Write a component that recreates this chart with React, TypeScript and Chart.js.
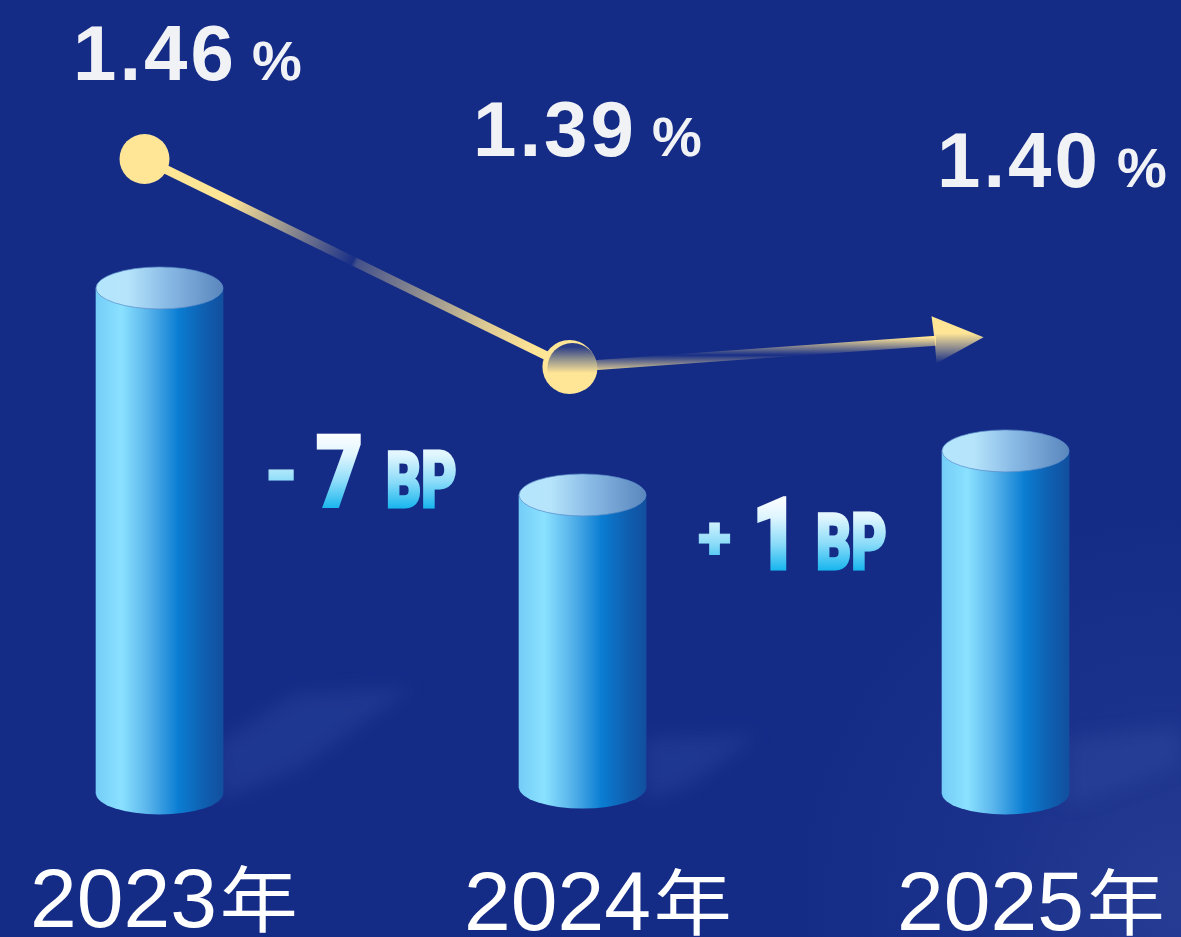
import React, { useEffect, useRef } from "react";
import { Chart, registerables } from "chart.js";

Chart.register(...registerables);

// ---- data ----
const years = [2023, 2024, 2025];
const yearSuffix = "年";
const rates = [1.46, 1.39, 1.4];
const rateX = [2022.9645, 2023.969, 2024.948];
const barTops = [1.46, 1.39, 1.4049];
const barBases = [1.2889, 1.2909, 1.2889];
const changeSigns = ["-", "+"];
const changeValues = ["7", "1"];
const changeUnit = "BP";

// ---- styling ----
const W = 1181;
const H = 937;
const YELLOW = "#ffe596";
const SANS = '"Liberation Sans", "Noto Sans CJK SC", sans-serif';
const rateLabelPos = [
  { x: 73, y: 80, px: 252 },
  { x: 473, y: 156, px: 652 },
  { x: 937, y: 187, px: 1117 },
];
const yearLabelPos = [
  { x: 30, y: 927 },
  { x: 464, y: 930 },
  { x: 897, y: 930 },
];
const changePos = [
  { signX: 263, signY: 499, signFont: 78, numX: 316, unitX: 386, y: 508 },
  { signX: 698, signY: 559, signFont: 62, numX: 752, unitX: 816, y: 570 },
];

function yellowAlpha(a: number) {
  return `rgba(255,229,150,${a})`;
}

function vGrad(ctx: CanvasRenderingContext2D, y0: number, y1: number, stops: [number, string][]) {
  const g = ctx.createLinearGradient(0, y0, 0, y1);
  stops.forEach(([o, c]) => g.addColorStop(o, c));
  return g;
}

function bodyGradient(ctx: CanvasRenderingContext2D, x0: number, x1: number) {
  const g = ctx.createLinearGradient(x0, 0, x1, 0);
  g.addColorStop(0, "#74cdf7");
  g.addColorStop(0.2, "#8ae1ff");
  g.addColorStop(0.4, "#5bb6ec");
  g.addColorStop(0.65, "#0a7dd2");
  g.addColorStop(0.85, "#0f5fb0");
  g.addColorStop(1, "#124f9f");
  return g;
}

const backdrop = {
  id: "backdrop",
  beforeDraw(chart: any) {
    const ctx: CanvasRenderingContext2D = chart.ctx;
    ctx.save();
    ctx.fillStyle = "#152c87";
    ctx.fillRect(0, 0, W, H);
    const g = ctx.createRadialGradient(1181, 900, 20, 1181, 900, 400);
    g.addColorStop(0, "rgba(70,90,170,0.35)");
    g.addColorStop(0.5, "rgba(60,80,165,0.14)");
    g.addColorStop(1, "rgba(60,80,165,0)");
    ctx.fillStyle = g;
    ctx.fillRect(0, 0, W, H);
    ctx.filter = "blur(9px)";
    ctx.fillStyle = "rgba(70,100,180,0.2)";
    const shadows = [
      [[215, 745], [295, 694], [412, 688], [300, 768], [222, 800]],
      [[645, 738], [758, 735], [690, 785], [645, 800]],
      [[1066, 738], [1181, 726], [1181, 765], [1090, 800], [1066, 805]],
    ];
    shadows.forEach((s) => {
      ctx.beginPath();
      s.forEach(([x, y], i) => (i ? ctx.lineTo(x, y) : ctx.moveTo(x, y)));
      ctx.closePath();
      ctx.fill();
    });
    ctx.restore();
  },
};

const cylinderCaps = {
  id: "cylinderCaps",
  afterDatasetDraw(chart: any, args: any) {
    if (args.index !== 0) return;
    const ctx: CanvasRenderingContext2D = chart.ctx;
    const RY = 21;
    chart.getDatasetMeta(0).data.forEach((el: any) => {
      const rx = el.width / 2;
      const top = Math.min(el.y, el.base);
      const bottom = Math.max(el.y, el.base);
      ctx.save();
      ctx.fillStyle = bodyGradient(ctx, el.x - rx, el.x + rx);
      ctx.beginPath();
      ctx.ellipse(el.x, bottom - 0.5, rx, RY, 0, 0, Math.PI);
      ctx.fill();
      const cap = ctx.createLinearGradient(el.x - rx, 0, el.x + rx, 0);
      cap.addColorStop(0, "#b4e6fd");
      cap.addColorStop(0.25, "#b6e4fb");
      cap.addColorStop(0.55, "#8abbe6");
      cap.addColorStop(1, "#5a86bd");
      ctx.fillStyle = cap;
      ctx.strokeStyle = "rgba(90,140,200,0.7)";
      ctx.lineWidth = 1;
      ctx.beginPath();
      ctx.ellipse(el.x, top, rx, RY, 0, 0, Math.PI * 2);
      ctx.fill();
      ctx.stroke();
      ctx.restore();
    });
  },
};

function drawCondensed(
  ctx: CanvasRenderingContext2D,
  text: string,
  x: number,
  y: number,
  font: number,
  sx: number,
  lw: number,
  gradTop: number,
  gradBottom: number
) {
  const by = y - lw / 2;
  ctx.save();
  ctx.translate(x, by);
  ctx.scale(sx, 1);
  ctx.font = `900 ${font}px Roboto, ${SANS}`;
  ctx.textAlign = "left";
  ctx.textBaseline = "alphabetic";
  const g = vGrad(ctx, gradTop - by, gradBottom - by, [
    [0, "#ffffff"],
    [0.3, "#def5fe"],
    [0.65, "#8bdcf9"],
    [1, "#19b6ee"],
  ]);
  ctx.fillStyle = g;
  ctx.strokeStyle = g;
  ctx.lineWidth = lw;
  ctx.lineJoin = "miter";
  ctx.miterLimit = 3;
  ctx.fillText(text, 0, 0);
  if (lw > 0) ctx.strokeText(text, 0, 0);
  ctx.restore();
}

const overlay = {
  id: "overlay",
  afterDatasetsDraw(chart: any) {
    const ctx: CanvasRenderingContext2D = chart.ctx;
    const meta = chart.getDatasetMeta(1).data;
    const mid = meta[1];
    const end = meta[2];
    ctx.save();
    // gradient disc on the middle point
    ctx.fillStyle = vGrad(ctx, mid.y - 20, mid.y + 6, [
      [0, "#2a3c86"],
      [0.45, "#8d8f8e"],
      [1, YELLOW],
    ]);
    ctx.beginPath();
    ctx.arc(mid.x + 3, mid.y + 1, 25, 0, Math.PI * 2);
    ctx.fill();
    // arrow head at the last point
    ctx.fillStyle = vGrad(ctx, end.y - 4, end.y + 26, [
      [0, YELLOW],
      [1, "rgba(255,229,150,0)"],
    ]);
    ctx.beginPath();
    ctx.moveTo(end.x, end.y);
    ctx.lineTo(end.x - 52, end.y - 21);
    ctx.lineTo(end.x - 49, end.y + 2);
    ctx.lineTo(end.x - 47, end.y + 26);
    ctx.closePath();
    ctx.fill();
    ctx.restore();

    // rate labels
    ctx.save();
    ctx.textAlign = "left";
    ctx.textBaseline = "alphabetic";
    ctx.fillStyle = "#f1f2f6";
    rates.forEach((r, i) => {
      const p = rateLabelPos[i];
      ctx.font = `bold 78px ${SANS}`;
      (ctx as any).letterSpacing = "3px";
      ctx.fillText(r.toFixed(2), p.x, p.y);
      (ctx as any).letterSpacing = "0px";
      ctx.font = `bold 56px ${SANS}`;
      ctx.fillText("%", p.px, p.y);
    });
    // year labels
    ctx.fillStyle = "#ffffff";
    years.forEach((y, i) => {
      const p = yearLabelPos[i];
      ctx.font = `84px ${SANS}`;
      const s = String(y);
      ctx.fillText(s, p.x, p.y);
      const w = ctx.measureText(s).width;
      ctx.save();
      ctx.translate(p.x + w + 3, p.y - 1);
      ctx.scale(1, 0.92);
      ctx.font = `78px "Noto Sans CJK SC", ${SANS}`;
      ctx.fillText(yearSuffix, 0, 0);
      ctx.restore();
    });
    ctx.restore();

    // change labels
    changePos.forEach((p, i) => {
      const top = p.y - 75;
      drawCondensed(ctx, changeSigns[i], p.signX, p.signY, p.signFont, i === 0 ? 1.05 : 1, 1, top, p.y);
      drawCondensed(ctx, changeValues[i], p.numX, p.y, 101, 0.8, 3, top, p.y);
      drawCondensed(ctx, changeUnit, p.unitX, p.y, 78, 0.7, 3, top, p.y);
    });
  },
};

const LOWER_CLIP = { left: 0, top: 0, bottom: 0, right: 936 - W };

export default function App() {
  const ref = useRef<HTMLCanvasElement>(null);

  useEffect(() => {
    document.body.style.margin = "0";
    document.body.style.background = "#152c87";
    const canvas = ref.current!;
    const ratePoints = rates.map((y, i) => ({ x: rateX[i], y }));
    const bars = years.map((x, i) => ({ x, y: [barBases[i], barTops[i]] }));
    const none = "rgba(0,0,0,0)";

    const chart = new Chart(canvas, {
      type: "bar",
      data: {
        datasets: [
          {
            type: "bar",
            data: bars as any,
            xAxisID: "x",
            yAxisID: "y",
            order: 10,
            barThickness: 127,
            borderWidth: 0,
            backgroundColor: (c: any) => {
              const px = c.chart.scales.x.getPixelForValue(years[c.dataIndex ?? 0]);
              if (!Number.isFinite(px)) return "#3fa0e6";
              return bodyGradient(c.chart.ctx, px - 63.5, px + 63.5);
            },
          } as any,
          {
            type: "line",
            data: ratePoints as any,
            xAxisID: "x",
            yAxisID: "y2",
            order: 3,
            borderWidth: 9,
            borderCapStyle: "butt",
            tension: 0,
            pointRadius: [25, 27, 0],
            pointBorderWidth: 0,
            pointBackgroundColor: YELLOW,
            segment: {
              borderColor: (c: any) => {
                if (c.p0DataIndex !== 0) return none;
                const g = c.chart.ctx.createLinearGradient(c.p0.x, c.p0.y, c.p1.x, c.p1.y);
                g.addColorStop(0, yellowAlpha(1));
                g.addColorStop(0.2, yellowAlpha(1));
                g.addColorStop(0.49, yellowAlpha(0.02));
                g.addColorStop(0.5, yellowAlpha(0.2));
                g.addColorStop(0.8, yellowAlpha(0.85));
                g.addColorStop(0.92, yellowAlpha(1));
                g.addColorStop(1, yellowAlpha(1));
                return g;
              },
            },
          } as any,
          {
            type: "line",
            data: ratePoints as any,
            xAxisID: "x",
            yAxisID: "y2",
            order: 2,
            borderWidth: 10,
            borderCapStyle: "butt",
            pointRadius: 0,
            clip: LOWER_CLIP,
            segment: {
              borderColor: (c: any) => {
                if (c.p0DataIndex !== 1) return none;
                return vGrad(c.chart.ctx, c.p0.y - 12, c.p0.y + 6, [
                  [0, yellowAlpha(0)],
                  [1, yellowAlpha(1)],
                ]);
              },
            },
          } as any,
          {
            type: "line",
            data: ratePoints as any,
            xAxisID: "x",
            yAxisID: "y2",
            order: 1,
            borderWidth: 10,
            borderCapStyle: "butt",
            pointRadius: 0,
            clip: LOWER_CLIP,
            segment: {
              borderColor: (c: any) => {
                if (c.p0DataIndex !== 1) return none;
                return vGrad(c.chart.ctx, c.p1.y, c.p1.y + 18, [
                  [0, yellowAlpha(1)],
                  [1, yellowAlpha(0)],
                ]);
              },
            },
          } as any,
        ],
      },
      options: {
        animation: false,
        responsive: false,
        events: [],
        layout: { padding: 0, autoPadding: false },
        plugins: { legend: { display: false }, tooltip: { enabled: false } },
        scales: {
          x: { type: "linear", display: false, offset: false, bounds: "data", min: 2022.6229, max: 2025.4148 },
          y: { type: "linear", display: false, bounds: "data", min: 1.2405, max: 1.5574 },
          y2: { type: "linear", display: false, bounds: "data", min: 1.1982, max: 1.5135 },
        },
      } as any,
      plugins: [backdrop, cylinderCaps, overlay],
    });
    return () => chart.destroy();
  }, []);

  return <canvas ref={ref} width={W} height={H} style={{ display: "block" }} />;
}
